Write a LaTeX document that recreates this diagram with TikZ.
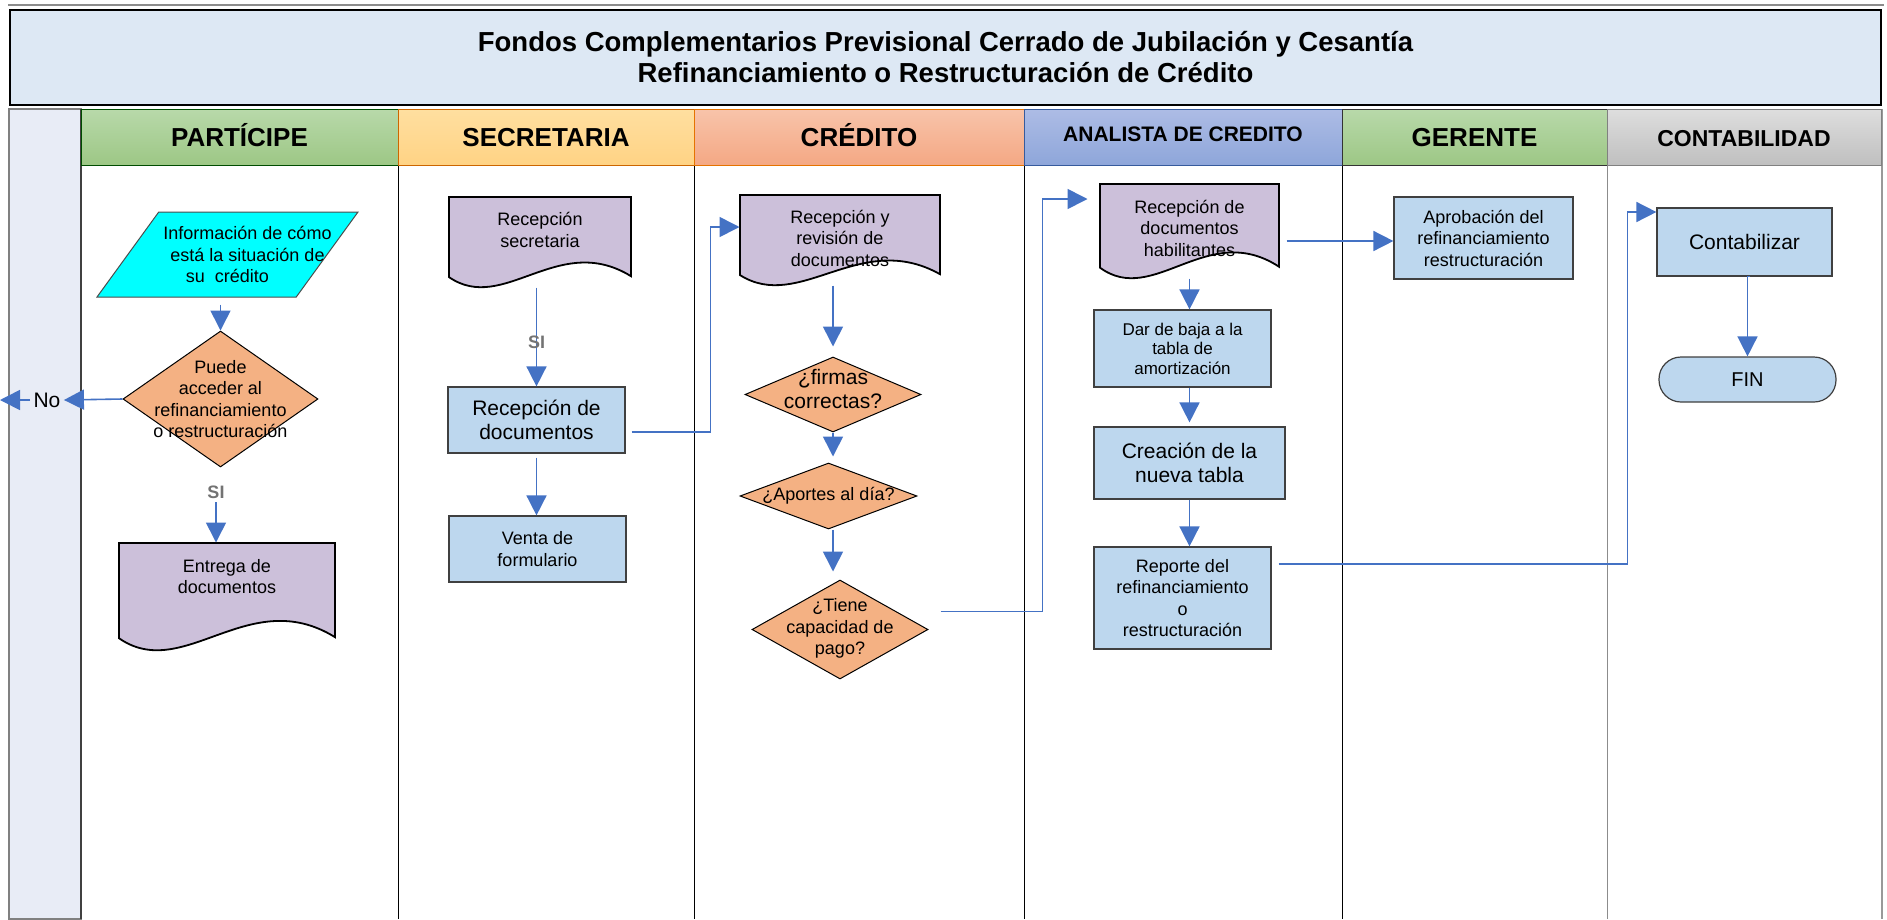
\documentclass[tikz,border=0pt]{standalone}
\usepackage{fontspec}
\setmainfont{Liberation Sans}
\usetikzlibrary{arrows.meta}
\usetikzlibrary{shapes}

\definecolor{flowblue}{HTML}{4472C4}
\definecolor{boxblue}{HTML}{BDD7EE}
\definecolor{doclilac}{HTML}{CCC0DA}
\definecolor{decorange}{HTML}{F4B183}
\definecolor{infocyan}{HTML}{00FFFF}
\definecolor{titlefill}{HTML}{DDE8F4}
\definecolor{stripfill}{HTML}{E8ECF6}
\definecolor{greentop}{HTML}{B8D9AA}
\definecolor{greenbot}{HTML}{9DC785}
\definecolor{sectop}{HTML}{FFDFA0}
\definecolor{secbot}{HTML}{FFD384}
\definecolor{credtop}{HTML}{F8C4AA}
\definecolor{credbot}{HTML}{F4A884}
\definecolor{analtop}{HTML}{ADBCE5}
\definecolor{analbot}{HTML}{8EA6DA}

\tikzset{
	every path/.style={line width=1pt},
	flow/.style={
		draw=flowblue,
		line width=1.6pt,
		-{Triangle[length=20pt,width=20pt]}
	},
	smalltext/.style={font=\fontsize{18}{21.5}\selectfont},
	bigtext/.style={font=\fontsize{21}{24}\selectfont},
	procbox/.style={
		draw=black!75,
		fill=boxblue,
		line width=1.2pt,
		align=center,
		inner sep=0pt,
		smalltext
	},
	infobox/.style={
		draw=black!70,
		fill=infocyan,
		trapezium,
		trapezium left angle=54,
		trapezium right angle=126,
		trapezium stretches body,
		inner sep=0pt
	},
	decision/.style={
		draw,
		diamond,
		fill=decorange,
		inner sep=0pt
	},
	dectext/.style={align=center, smalltext},
	docline/.style={draw=black, line width=1.8pt, fill=doclilac},
	docbody/.style={inner sep=0pt},
	doctext/.style={align=center, smalltext},
	titlebox/.style={
		draw=black,
		line width=2pt,
		fill=titlefill,
		align=center,
		font=\bfseries\fontsize{27.5}{31}\selectfont
	},
	lanehead/.style={
		draw=black!70,
		minimum height=56,
		inner sep=0pt,
		text height=18.5pt,
		text depth=0pt,
		font=\bfseries\fontsize{26}{30}\selectfont
	},
	silbl/.style={text=black!55, font=\bfseries\fontsize{18}{20}\selectfont},
}

% document symbol: name, left, top, width, height, text shift, text
\newcommand{\docnode}[7]{%
	\filldraw[docline] (#2+#4,#3+0.88*#5) -- (#2+#4,#3) -- (#2,#3) -- (#2,#3+0.89*#5)
		.. controls (#2+0.3*#4,#3+1.31*#5) and (#2+0.6*#4,#3+0.38*#5) .. (#2+#4,#3+0.88*#5) -- cycle;
	\node[docbody, minimum width=#4, minimum height=#5,
		label={[doctext, name=#1-t, yshift=#6]center:{#7}}] (#1) at (#2+#4/2,#3+#5/2) {};
}

\begin{document}
\begin{tikzpicture}[x=1pt,y=-1pt]
	\useasboundingbox (0,0) rectangle (1887,919);

	% title
	\draw[black!45, line width=2pt] (8,5) -- (1884,5);
	\node[titlebox, minimum width=1871, minimum height=95] (title) at (945.5,57.5)
		{Fondos Complementarios Previsional Cerrado de Jubilación y Cesantía\\Refinanciamiento o Restructuración de Crédito};

	% lanes
	\filldraw[fill=stripfill, draw=black!50, line width=1.5pt] (9,109) rectangle (81,919);
	\draw[black!75, line width=2pt] (81,109) -- (81,919);
	\draw (398,165) -- (398,919);
	\draw (694,165) -- (694,919);
	\draw (1024,165) -- (1024,919);
	\draw (1342,165) -- (1342,919);
	\draw[black!45] (1607,165) -- (1607,919);
	\draw[black!40, line width=2.5pt] (1882,109) -- (1882,919);

	\node[lanehead, top color=greentop, bottom color=greenbot, draw=green!30!black, minimum width=317] (hpart) at (239.5,137) {PARTÍCIPE};
	\node[lanehead, top color=sectop, bottom color=secbot, draw=orange!80!black, minimum width=296] (hsec) at (546,137) {SECRETARIA};
	\node[lanehead, top color=credtop, bottom color=credbot, draw=orange!90!black, minimum width=330] (hcred) at (859,137) {CRÉDITO};
	\node[lanehead, top color=analtop, bottom color=analbot, draw=flowblue!80!black, minimum width=318, font=\bfseries\fontsize{21}{24}\selectfont] (hanal) at (1183,137) {\raisebox{5pt}{ANALISTA DE CREDITO}};
	\node[lanehead, top color=greentop, bottom color=greenbot, draw=black!80, minimum width=265] (hger) at (1474.5,137) {GERENTE};
	\node[lanehead, top color=black!13, bottom color=black!25, draw=black!50, minimum width=274, font=\bfseries\fontsize{23}{26}\selectfont] (hcont) at (1744,137) {CONTABILIDAD};

	% participe
	\node[infobox, minimum width=261,
		label={[doctext, name=info-t]center:{\hspace*{40pt}Información de cómo\\\hspace*{40pt}está la situación de\\su\ \ crédito}}] (info) at (227.5,254.5) {\rule{0pt}{85pt}};
	\node[decision, minimum width=195, minimum height=136,
		label={[dectext, name=d1-t]center:{Puede\\acceder al\\refinanciamiento\\o restructuración}}] (d1) at (220.5,399) {};
	\node[bigtext, inner sep=3pt] (nolbl) at (47,400) {No};
	\coordinate (noexit) at (0,400);
	\node[silbl] (si1) at (216,492) {SI};
	\docnode{entrega}{119}{543}{216}{107}{20pt}{Entrega de\\documentos}

	% secretaria
	\docnode{recsec}{449}{197}{182}{90}{12pt}{Recepción\\secretaria}
	\node[procbox, bigtext, minimum width=177, minimum height=66] (recdoc) at (536.5,420) {Recepción de\\documentos};
	\node[procbox, minimum width=177, minimum height=66] (venta) at (537.5,549) {Venta de\\formulario};

	% credito
	\docnode{revdoc}{740}{195}{200}{90}{2pt}{Recepción y\\revisión de\\documentos}
	\node[decision, minimum width=176, minimum height=75,
		label={[dectext, bigtext, name=firmas-t, yshift=6pt]center:{¿firmas\\correctas?}}] (firmas) at (833,394.5) {};
	\node[decision, minimum width=177, minimum height=66,
		label={[dectext, name=aportes-t]center:{¿Aportes al día?}}] (aportes) at (828.5,496) {};
	\node[decision, minimum width=176, minimum height=99,
		label={[dectext, name=pago-t, yshift=1pt]center:{¿Tiene\\capacidad de\\pago?}}] (pago) at (840,629.5) {};

	% analista
	\docnode{habil}{1100}{184}{179}{94}{3pt}{Recepción de\\documentos\\habilitantes}
	\node[procbox, font=\fontsize{17}{19.5}\selectfont, minimum width=177, minimum height=77] (baja) at (1182.5,348.5) {Dar de baja a la\\tabla de\\amortización};
	\node[procbox, bigtext, minimum width=191, minimum height=72] (nueva) at (1189.5,463) {Creación de la\\nueva tabla};
	\node[procbox, minimum width=177, minimum height=102] (reporte) at (1182.5,598) {Reporte del\\refinanciamiento\\o\\restructuración};

	% gerente
	\node[procbox, minimum width=179, minimum height=82] (aprob) at (1483.5,238) {Aprobación del\\refinanciamiento\\restructuración};

	% contabilidad
	\node[procbox, bigtext, minimum width=175, minimum height=68] (contab) at (1744.5,242) {Contabilizar};
	\node[procbox, rounded corners=22pt, font=\fontsize{20}{22}\selectfont, minimum width=177, minimum height=45] (fin) at (1747.5,379.5) {FIN};

	% flow
	\draw[flow, shorten <=7pt] (info.south -| d1.north) -- (d1.north);
	\draw[flow] (d1.west) -- (nolbl.east);
	\draw[flow] (nolbl.west) -- (noexit);
	\draw[flow] (si1.south) -- (si1.south |- entrega.north);
	\draw[flow] (recsec.south -| recdoc.north) -- node[silbl, pos=0.55] (si2) {SI} (recdoc.north);
	\draw[flow, shorten <=4pt] (recdoc.south) -- (recdoc.south |- venta.north);
	\draw[flow] ([xshift=6pt,yshift=-12pt]recdoc.east) -- ++(79,0) |- ([yshift=13pt]revdoc.west);
	\draw[flow, shorten >=10pt] (revdoc.south -| firmas.north) -- (firmas.north);
	\draw[flow, shorten >=6pt] (firmas.south) -- (firmas.south |- aportes.north);
	\draw[flow, shorten >=8pt] (aportes.south -| firmas.south) -- (firmas.south |- pago.north);
	\draw[flow, shorten >=12pt] ([xshift=12pt,yshift=18pt]pago.east) -- ++(102,0) |- ([yshift=32pt]habil.west);
	\draw[flow] (habil.south) -- (habil.south |- baja.north);
	\draw[flow, shorten >=4pt] (baja.south -| habil.south) -- (habil.south |- nueva.north);
	\draw[flow] (nueva.south) -- (nueva.south |- reporte.north);
	\draw[flow] ([xshift=7pt,yshift=-10pt]habil.east) -- ([yshift=-3pt]aprob.west);
	\draw[flow] ([xshift=7pt,yshift=34pt]reporte.east) -- ++(349,0) |- ([yshift=30pt]contab.west);
	\draw[flow, shorten <=5pt] (contab.south) -- (contab.south -| fin.north) -- (fin.north);
\end{tikzpicture}
\end{document}
